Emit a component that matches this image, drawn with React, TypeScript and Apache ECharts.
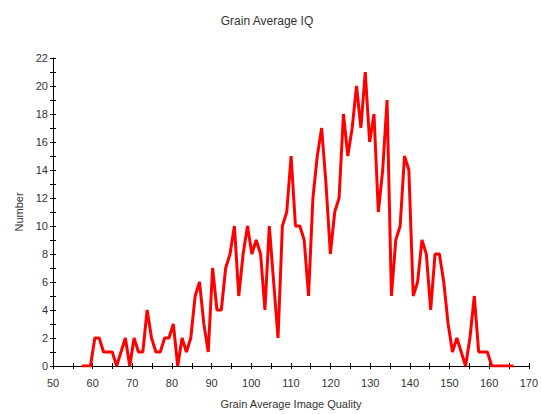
import React, { useEffect, useRef } from "react";
import * as echarts from "echarts";

const titleText = "Grain Average IQ";
const xAxisName = "Grain Average Image Quality";
const yAxisName = "Number";

const imageQuality = [
  57.25, 58.35, 59.45, 60.55, 61.65, 62.75, 63.85, 64.95, 66.05, 67.15,
  68.25, 69.35, 70.45, 71.55, 72.65, 73.75, 74.85, 75.95, 77.05, 78.15,
  79.25, 80.35, 81.45, 82.55, 83.65, 84.75, 85.85, 86.95, 88.05, 89.15,
  90.25, 91.35, 92.45, 93.55, 94.65, 95.75, 96.85, 97.95, 99.05, 100.15,
  101.25, 102.35, 103.45, 104.55, 105.65, 106.75, 107.85, 108.95, 110.05, 111.15,
  112.25, 113.35, 114.45, 115.55, 116.65, 117.75, 118.85, 119.95, 121.05, 122.15,
  123.25, 124.35, 125.45, 126.55, 127.65, 128.75, 129.85, 130.95, 132.05, 133.15,
  134.25, 135.35, 136.45, 137.55, 138.65, 139.75, 140.85, 141.95, 143.05, 144.15,
  145.25, 146.35, 147.45, 148.55, 149.65, 150.75, 151.85, 152.95, 154.05, 155.15,
  156.25, 157.35, 158.45, 159.55, 160.65, 161.75, 162.85, 163.95, 165.05, 166.15,
];

const counts = [
  0, 0, 0, 2, 2, 1, 1, 1, 0, 1,
  2, 0, 2, 1, 1, 4, 2, 1, 1, 2,
  2, 3, 0, 2, 1, 2, 5, 6, 3, 1,
  7, 4, 4, 7, 8, 10, 5, 8, 10, 8,
  9, 8, 4, 10, 6, 2, 10, 11, 15, 10,
  10, 9, 5, 12, 15, 17, 13, 8, 11, 12,
  18, 15, 17, 20, 17, 21, 16, 18, 11, 14,
  19, 5, 9, 10, 15, 14, 5, 6, 9, 8,
  4, 8, 8, 6, 3, 1, 2, 1, 0, 2,
  5, 1, 1, 1, 0, 0, 0, 0, 0, 0,
];

const X_MIN = 50;
const X_MAX = 170;
const X_STEP = 10;
const Y_MIN = 0;
const Y_MAX = 22;
const Y_STEP = 2;

export default function App() {
  const ref = useRef<HTMLDivElement>(null);

  useEffect(() => {
    if (!ref.current) return;
    const chart = echarts.init(ref.current, null, { renderer: "svg" });
    const labelColor = "#333";
    const font = "Arial, 'Liberation Sans', sans-serif";

    const baseX = {
      type: "value" as const,
      min: X_MIN,
      max: X_MAX,
      interval: X_STEP,
      position: "bottom" as const,
      splitLine: { show: false },
    };
    const baseY = {
      type: "value" as const,
      min: Y_MIN,
      max: Y_MAX,
      interval: Y_STEP,
      position: "left" as const,
      splitLine: { show: false },
    };

    chart.setOption({
      animation: false,
      backgroundColor: "#ffffff",
      title: {
        text: titleText,
        left: 262,
        top: 10,
        textAlign: "center",
        textStyle: {
          fontSize: 12,
          fontWeight: "normal",
          color: labelColor,
          fontFamily: font,
        },
      },
      grid: { left: 53, right: 11, top: 58, bottom: 48 },
      xAxis: [
        {
          ...baseX,
          name: xAxisName,
          nameLocation: "middle",
          nameGap: 32,
          nameTextStyle: { fontSize: 11, color: labelColor, fontFamily: font },
          axisLine: { show: true, lineStyle: { color: "#000", width: 1 } },
          axisTick: { show: true, inside: false, length: 3, lineStyle: { color: "#000" } },
          minorTick: { show: true, splitNumber: 2, length: 3, lineStyle: { color: "#000" } },
          axisLabel: { fontSize: 11, color: labelColor, margin: 11, fontFamily: font },
        },
        {
          ...baseX,
          axisLine: { show: false },
          axisTick: { show: true, inside: true, length: 3, lineStyle: { color: "#000" } },
          minorTick: { show: true, splitNumber: 2, length: 3, lineStyle: { color: "#000" } },
          axisLabel: { show: false },
        },
      ],
      yAxis: [
        {
          ...baseY,
          name: yAxisName,
          nameLocation: "middle",
          nameGap: 24,
          nameTextStyle: { fontSize: 11, color: labelColor, fontFamily: font },
          axisLine: { show: true, lineStyle: { color: "#000", width: 1 } },
          axisTick: { show: true, inside: false, length: 3, lineStyle: { color: "#000" } },
          minorTick: { show: true, splitNumber: 2, length: 3, lineStyle: { color: "#000" } },
          axisLabel: { fontSize: 11, color: labelColor, margin: 5, fontFamily: font },
        },
        {
          ...baseY,
          axisLine: { show: false },
          axisTick: { show: true, inside: true, length: 3, lineStyle: { color: "#000" } },
          minorTick: { show: true, splitNumber: 2, length: 3, lineStyle: { color: "#000" } },
          axisLabel: { show: false },
        },
      ],
      series: [
        {
          type: "line",
          xAxisIndex: 0,
          yAxisIndex: 0,
          data: imageQuality.map((x, i) => [x, counts[i]]),
          showSymbol: false,
          symbol: "none",
          lineStyle: { color: "#ff0000", width: 3 },
          z: 3,
        },
      ],
    });

    return () => chart.dispose();
  }, []);

  return (
    <div
      ref={ref}
      style={{ position: "fixed", left: 0, top: 0, width: 541, height: 414 }}
    />
  );
}
